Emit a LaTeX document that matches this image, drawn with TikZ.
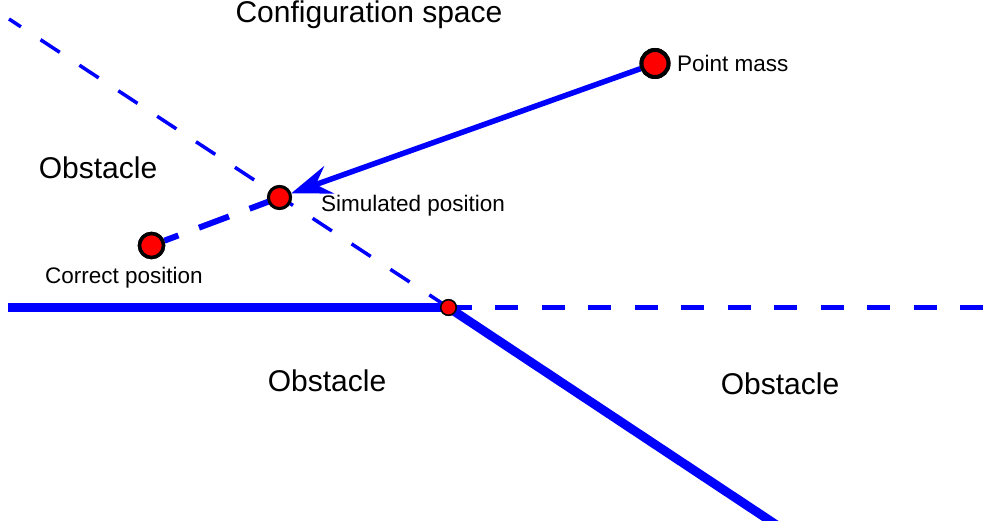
\documentclass[tikz,border=0pt]{standalone}
\usepackage{fontspec}
\setmainfont{Liberation Sans}
\usetikzlibrary{arrows.meta}
\definecolor{pureblue}{RGB}{0,0,255}
\definecolor{purered}{RGB}{255,0,0}
\tikzset{
  mass/.style={circle,fill=purered,draw=black,inner sep=0pt},
  bigtxt/.style={font=\fontsize{30}{34}\selectfont,inner sep=0pt},
  smalltxt/.style={font=\fontsize{22.5}{26}\selectfont,inner sep=0pt},
  blueline/.style={draw=pureblue,line cap=butt},
  thindash/.style={blueline,line width=3.5pt,dash pattern=on 23pt off 23.5pt},
  hdash/.style={blueline,line width=5pt,dash pattern=on 23pt off 23.5pt},
  thickdash/.style={blueline,line width=6pt,dash pattern=on 32pt off 22pt},
}
\begin{document}
\begin{tikzpicture}[x=1pt,y=-1pt]
\useasboundingbox (0,0) rectangle (986,521);
% coordinates
\coordinate (leftend) at (8,307.5);
\coordinate (rightend) at (990,307.5);
\coordinate (topleft) at (9,19);
\coordinate (bottomend) at (778,526);
% nodes
\node[mass,minimum size=27pt,line width=4pt] (pm) at (655,63.5) {};
\node[mass,minimum size=22pt,line width=3pt] (sim) at (279.5,197.5) {};
\node[mass,minimum size=24pt,line width=3.5pt] (cor) at (151.5,245.5) {};
\node[mass,minimum size=15.5pt,line width=1.5pt] (junc) at (448.5,307.5) {};
% lines
\draw[blueline,line width=9pt] (leftend) -- (junc.center);
\draw[hdash] (junc.center) -- (rightend);
\draw[blueline,line width=9pt] (junc.center) -- (bottomend);
\draw[thindash] (junc.center) -- (topleft);
\draw[thickdash] (sim.center) -- (cor);
\draw[blueline,line width=5.5pt,-{Stealth[length=40pt,width=29pt,inset=14pt]}] (pm) -- (sim);
% redraw circles on top
\node[mass,minimum size=27pt,line width=4pt] at (pm) {};
\node[mass,minimum size=22pt,line width=3pt] at (sim) {};
\node[mass,minimum size=24pt,line width=3.5pt] at (cor) {};
\node[mass,minimum size=15.5pt,line width=1.5pt] at (junc) {};
% labels
\node[bigtxt] (title) at (369,15) {Configuration space};
\node[bigtxt] (obs1) at (98,168) {Obstacle};
\node[bigtxt] (obs2) at (327,381) {Obstacle};
\node[bigtxt] (obs3) at (780,384) {Obstacle};
\node[smalltxt,anchor=west] (pmlab) at (677,63) {Point mass};
\node[smalltxt,anchor=west] (simlab) at (321,206) {Simulated position};
\node[smalltxt] (corlab) at (124,278) {Correct position};
\end{tikzpicture}
\end{document}
